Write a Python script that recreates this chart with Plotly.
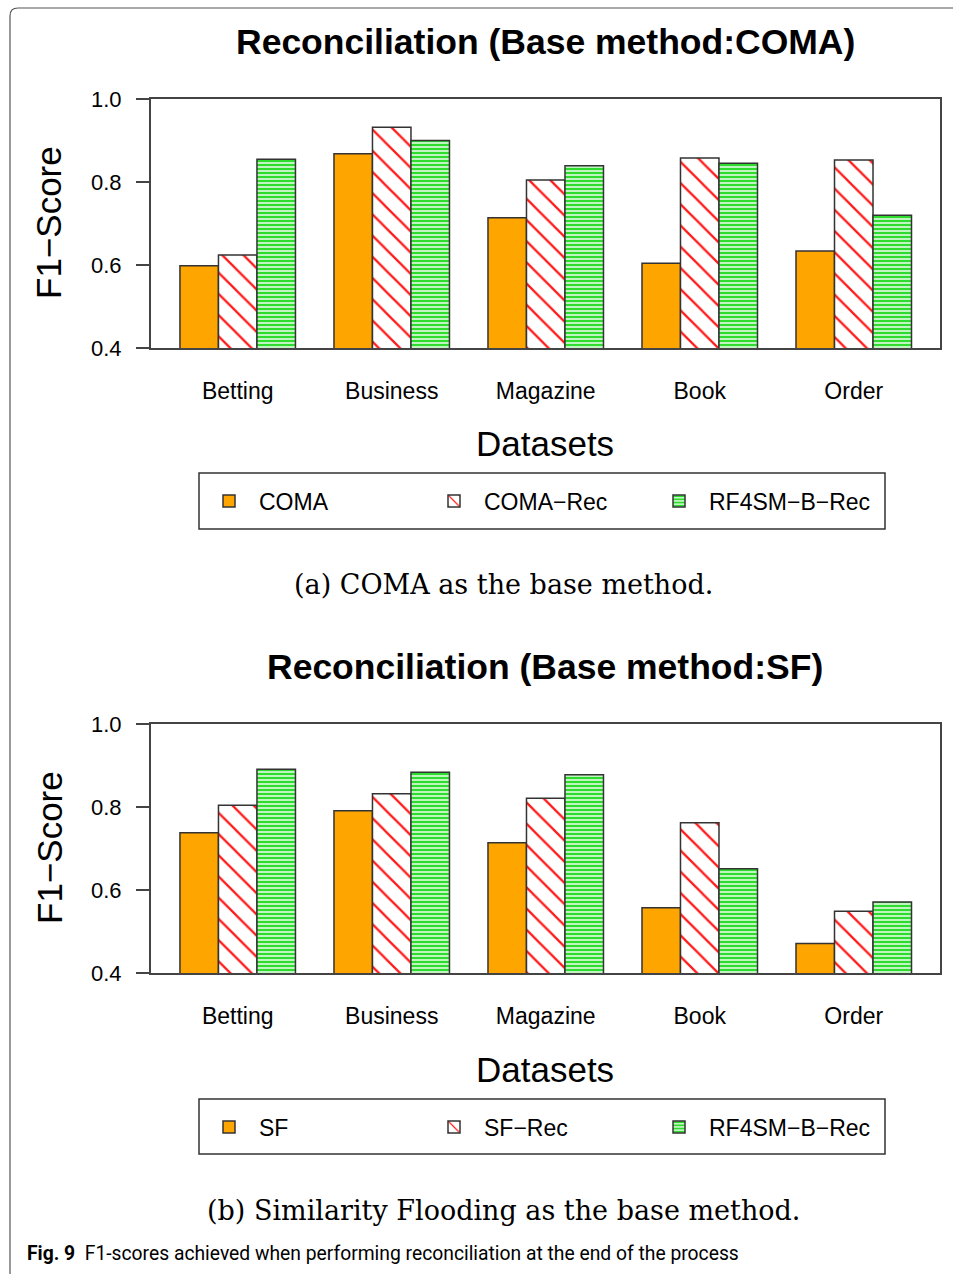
import plotly.graph_objects as go

W, H = 953, 1274

datasets = ["Betting", "Business", "Magazine", "Book", "Order"]

# Top panel: COMA as base method
coma = [0.598, 0.868, 0.714, 0.604, 0.634]
coma_rec = [0.624, 0.932, 0.805, 0.858, 0.853]
rf_coma = [0.855, 0.900, 0.839, 0.845, 0.720]

# Bottom panel: Similarity Flooding as base method
sf = [0.738, 0.791, 0.714, 0.557, 0.471]
sf_rec = [0.804, 0.832, 0.821, 0.762, 0.549]
rf_sf = [0.891, 0.884, 0.878, 0.651, 0.571]

y_ticks = [0.4, 0.6, 0.8, 1.0]
y_ticktext = ["0.4", "0.6", "0.8", "1.0"]

SANS = "Liberation Sans, Arial, Helvetica, sans-serif"
SERIF = "DejaVu Serif, serif"
EDGE = "#333333"
ORANGE = "#FFA500"
RED = "#FF1A1A"
GREEN = "#2EDC2E"


def px_y(py):
    return 1 - py / H


def px_x(px):
    return px / W


fig = go.Figure()


def add_panel(vals_base, vals_rec, vals_rf, names, xa, ya, legend):
    line = dict(color=EDGE, width=1.5)
    fig.add_trace(go.Bar(x=datasets, y=vals_base, name=names[0], xaxis=xa, yaxis=ya,
                         legend=legend,
                         marker=dict(color=ORANGE, line=line)))
    fig.add_trace(go.Bar(x=datasets, y=vals_rec, name=names[1], xaxis=xa, yaxis=ya,
                         legend=legend,
                         marker=dict(color="white", line=line,
                                     pattern=dict(shape="\\", fgcolor=RED, bgcolor="white",
                                                  fgopacity=1, size=15, solidity=0.15,
                                                  fillmode="replace"))))
    fig.add_trace(go.Bar(x=datasets, y=vals_rf, name=names[2], xaxis=xa, yaxis=ya,
                         legend=legend,
                         marker=dict(color="white", line=line,
                                     pattern=dict(shape="-", fgcolor=GREEN, bgcolor="white",
                                                  fgopacity=1, size=4, solidity=0.65,
                                                  fillmode="replace"))))


add_panel(coma, coma_rec, rf_coma, ["COMA", "COMA\u2212Rec", "RF4SM\u2212B\u2212Rec"], "x", "y", "legend")
add_panel(sf, sf_rec, rf_sf, ["SF", "SF\u2212Rec", "RF4SM\u2212B\u2212Rec"], "x2", "y2", "legend2")

xdom = [px_x(151), px_x(940)]
xcommon = dict(domain=xdom, range=[-0.563, 4.56], showline=True, mirror=True,
               linecolor="#444", linewidth=2, ticks="", showgrid=False, zeroline=False,
               tickfont=dict(family=SANS, size=23, color="black"), ticklabelstandoff=21,
               fixedrange=True, automargin=False)
ycommon = dict(range=[0.4, 1.0], tickvals=y_ticks, ticktext=y_ticktext, showline=True,
               mirror=True, linecolor="#444", linewidth=2, ticks="outside", ticklen=13,
               tickwidth=2, tickcolor="#444", showgrid=False, zeroline=False,
               tickfont=dict(family=SANS, size=22, color="black"), ticklabelstandoff=10,
               fixedrange=True, automargin=False)

legend_common = dict(orientation="h", xanchor="left", yanchor="middle",
                     itemwidth=50, entrywidth=160, entrywidthmode="pixels",
                     bgcolor="rgba(0,0,0,0)",
                     font=dict(family=SANS, size=23, color="black"))

fig.update_layout(
    width=W, height=H, margin=dict(l=0, r=0, t=0, b=0, autoexpand=False),
    paper_bgcolor="white", plot_bgcolor="white",
    barmode="group", bargap=0.25, bargroupgap=0,
    xaxis=dict(xcommon, anchor="y"),
    yaxis=dict(ycommon, domain=[px_y(348), px_y(99)], anchor="x"),
    xaxis2=dict(xcommon, anchor="y2"),
    yaxis2=dict(ycommon, domain=[px_y(973), px_y(724)], anchor="x2"),
    legend=dict(legend_common, x=px_x(199), y=px_y(501)),
    legend2=dict(legend_common, x=px_x(199), y=px_y(1127)),
    showlegend=True,
)

ann = []


def text(x, y, s, size, family=SANS, angle=0, xanchor="center"):
    ann.append(dict(x=x, y=y, xref="paper", yref="paper", text=s, showarrow=False,
                    font=dict(family=family, size=size, color="black"), textangle=angle,
                    xanchor=xanchor, yanchor="middle"))


text(px_x(545), px_y(42), "<b>Reconciliation (Base method:COMA)</b>", 35.5)
text(px_x(545), px_y(667), "<b>Reconciliation (Base method:SF)</b>", 35.5)
text(px_x(49), px_y(223), "F1\u2212Score", 35, angle=-90)
text(px_x(49), px_y(848), "F1\u2212Score", 35, angle=-90)
text(px_x(545), px_y(443), "Datasets", 35)
text(px_x(545), px_y(1069), "Datasets", 35)
text(px_x(503), px_y(585), "(a) COMA as the base method.", 27, family=SERIF)
text(px_x(503), px_y(1210), "(b) Similarity Flooding as the base method.", 27, family=SERIF)
text(px_x(25), px_y(1253),
     "<b>Fig. 9</b>  F1-scores achieved when performing reconciliation at the end of the process",
     19.3, family="Roboto, sans-serif", xanchor="left")
fig.update_layout(annotations=ann)

shapes = []
for top, bot in [(473, 529), (1099, 1154)]:
    shapes.append(dict(type="rect", xref="paper", yref="paper", x0=px_x(199), x1=px_x(885),
                       y0=px_y(bot), y1=px_y(top), line=dict(color=EDGE, width=1.5)))
# outer frame: left edge and top edge with rounded corner
x0 = px_x(10)
yt = px_y(8)
rx = 8 / W
ry = 8 / H
shapes.append(dict(type="path", xref="paper", yref="paper",
                   path=f"M {x0},0 L {x0},{yt - ry} Q {x0},{yt} {x0 + rx},{yt} L 1,{yt}",
                   line=dict(color="#555", width=1.2)))
fig.update_layout(shapes=shapes)

fig.write_html("out.html")
